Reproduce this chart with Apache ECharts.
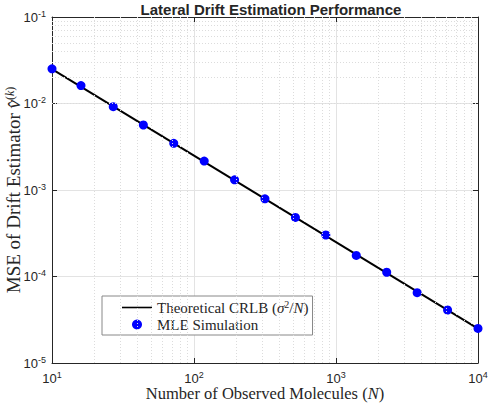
<!DOCTYPE html>
<html>
<head>
<meta charset="utf-8">
<script src="https://cdn.jsdelivr.net/npm/echarts@6/dist/echarts.min.js"></script>
<style>
  html, body { margin: 0; padding: 0; background: #fff; }
  #main { width: 488px; height: 404px; }
</style>
</head>
<body>
<div id="main"></div>
<script>
// observed molecule counts (x) and MSE values
const nObs = [10, 16, 27, 44, 72, 118, 193, 316, 518, 848, 1389, 2276, 3728, 6105, 10000]
const mleMse = [0.0252, 0.0161, 0.00918, 0.00564, 0.00346, 0.00216, 0.00131, 0.00079,
  0.000482, 0.000302, 0.000175, 0.000112, 0.000065, 0.000041, 0.0000251]
const crlbN = [10, 10000]
const crlbMse = [0.025, 0.000025]

const sans = 'Liberation Sans'
const serif = 'Liberation Serif'
const ink = '#262626'

// minor grid positions 2..9 x 10^k
const minorX = []
for (let d = 10; d < 10000; d *= 10) for (let k = 2; k <= 9; k++) minorX.push(k * d)
const minorY = []
for (let d = 1e-5; d < 0.09; d *= 10) for (let k = 2; k <= 9; k++) minorY.push(+(k * d).toPrecision(3))

const supRich = {
  b: { fontFamily: sans, fontSize: 13, color: ink, lineHeight: 14 },
  s: { fontFamily: sans, fontSize: 9, color: ink, padding: [0, 0, 7, 0] }
}
const powLabel = v => '{b|10}{s|' + Math.round(Math.log10(v)) + '}'

var myChart = echarts.init(document.getElementById('main'), null, { renderer: 'svg' })

myChart.setOption({
  animation: false,
  title: {
    text: 'Lateral Drift Estimation Performance',
    left: 266, top: -3, textAlign: 'center',
    textStyle: { fontFamily: sans, fontSize: 15, fontWeight: 'bold', color: ink }
  },
  grid: { left: 52, right: 10, top: 17, bottom: 41, outerBoundsMode: 'none' },
  legend: {
    orient: 'vertical',
    left: 102, top: 296,
    padding: [3, 4, 3, 20],
    itemGap: 2,
    itemWidth: 30, itemHeight: 10,
    backgroundColor: '#fff',
    borderColor: '#888', borderWidth: 1,
    data: [
      { name: 'crlb', icon: 'path://M0,4.2L30,4.2L30,5.8L0,5.8Z' },
      { name: 'mle', icon: 'circle' }
    ],
    formatter: name => name === 'crlb'
      ? '{t|Theoretical CRLB (}{i|σ}{s|2}{t|/}{i|N}{t|)}'
      : '{t|MLE Simulation}',
    textStyle: {
      rich: {
        t: { fontFamily: serif, fontSize: 15, color: ink },
        i: { fontFamily: serif, fontSize: 15, fontStyle: 'italic', color: ink },
        s: { fontFamily: serif, fontSize: 10, color: ink, padding: [0, 0, 7, 0] }
      }
    }
  },
  xAxis: [{
    type: 'log', logBase: 10, min: 10, max: 10000,
    name: '{t|Number of Observed Molecules (}{i|N}{t|)}',
    nameLocation: 'middle', nameGap: 22, nameMoveOverlap: false,
    nameTextStyle: {
      rich: {
        t: { fontFamily: serif, fontSize: 16.5, color: ink, lineHeight: 17 },
        i: { fontFamily: serif, fontSize: 16.5, fontStyle: 'italic', color: ink, lineHeight: 17 }
      }
    },
    axisLine: { lineStyle: { color: ink, width: 1 } },
    axisTick: { inside: true, length: 5, lineStyle: { color: ink } },
    axisLabel: { formatter: powLabel, rich: supRich, margin: 7 },
    splitLine: { show: true, lineStyle: { color: '#e3e3e3', width: 1 } }
  }, {
    type: 'log', logBase: 10, min: 10, max: 10000, position: 'top',
    axisLine: { show: true, lineStyle: { color: ink, width: 1 } },
    axisTick: { inside: true, length: 5, lineStyle: { color: ink } },
    axisLabel: { show: false },
    splitLine: { show: false }
  }],
  yAxis: [{
    type: 'log', logBase: 10, min: 1e-5, max: 1e-1,
    name: '{t|MSE of Drift Estimator }{i|v̂}{s|(}{si|k}{s|)}',
    nameLocation: 'middle', nameGap: 29, nameRotate: 90, nameMoveOverlap: false,
    nameTextStyle: {
      rich: {
        t: { fontFamily: serif, fontSize: 19, color: ink },
        i: { fontFamily: serif, fontSize: 19, fontStyle: 'italic', color: ink },
        s: { fontFamily: serif, fontSize: 12, color: ink, padding: [0, 0, 7, 0] },
        si: { fontFamily: serif, fontSize: 12, fontStyle: 'italic', color: ink, padding: [0, 0, 7, 0] }
      }
    },
    axisLine: { show: true, lineStyle: { color: ink, width: 1 } },
    axisTick: { show: true, inside: true, length: 5, lineStyle: { color: ink } },
    axisLabel: { formatter: powLabel, rich: supRich, margin: 6 },
    splitLine: { show: true, lineStyle: { color: '#e3e3e3', width: 1 } }
  }, {
    type: 'log', logBase: 10, min: 1e-5, max: 1e-1, position: 'right',
    axisLine: { show: true, lineStyle: { color: ink, width: 1 } },
    axisTick: { show: true, inside: true, length: 5, lineStyle: { color: ink } },
    axisLabel: { show: false },
    splitLine: { show: false }
  }],
  series: [
    {
      name: 'minor',
      type: 'line',
      data: [],
      silent: true,
      z: 1,
      markLine: {
        silent: true,
        symbol: 'none',
        label: { show: false },
        lineStyle: { type: [1, 2], color: '#dcdcdc', width: 1 },
        animation: false,
        data: minorX.map(v => ({ xAxis: v })).concat(minorY.map(v => ({ yAxis: v })))
      }
    },
    {
      name: 'crlb',
      type: 'line',
      data: crlbN.map((n, i) => [n, crlbMse[i]]),
      symbol: 'none',
      z: 3,
      lineStyle: { color: '#000', width: 2 },
      itemStyle: { color: '#000' }
    },
    {
      name: 'mle',
      type: 'scatter',
      data: nObs.map((n, i) => [n, mleMse[i]]),
      symbol: 'circle',
      symbolSize: 9,
      z: 4,
      itemStyle: { color: '#0000ff', opacity: 1 }
    }
  ]
})
</script>
</body>
</html>
